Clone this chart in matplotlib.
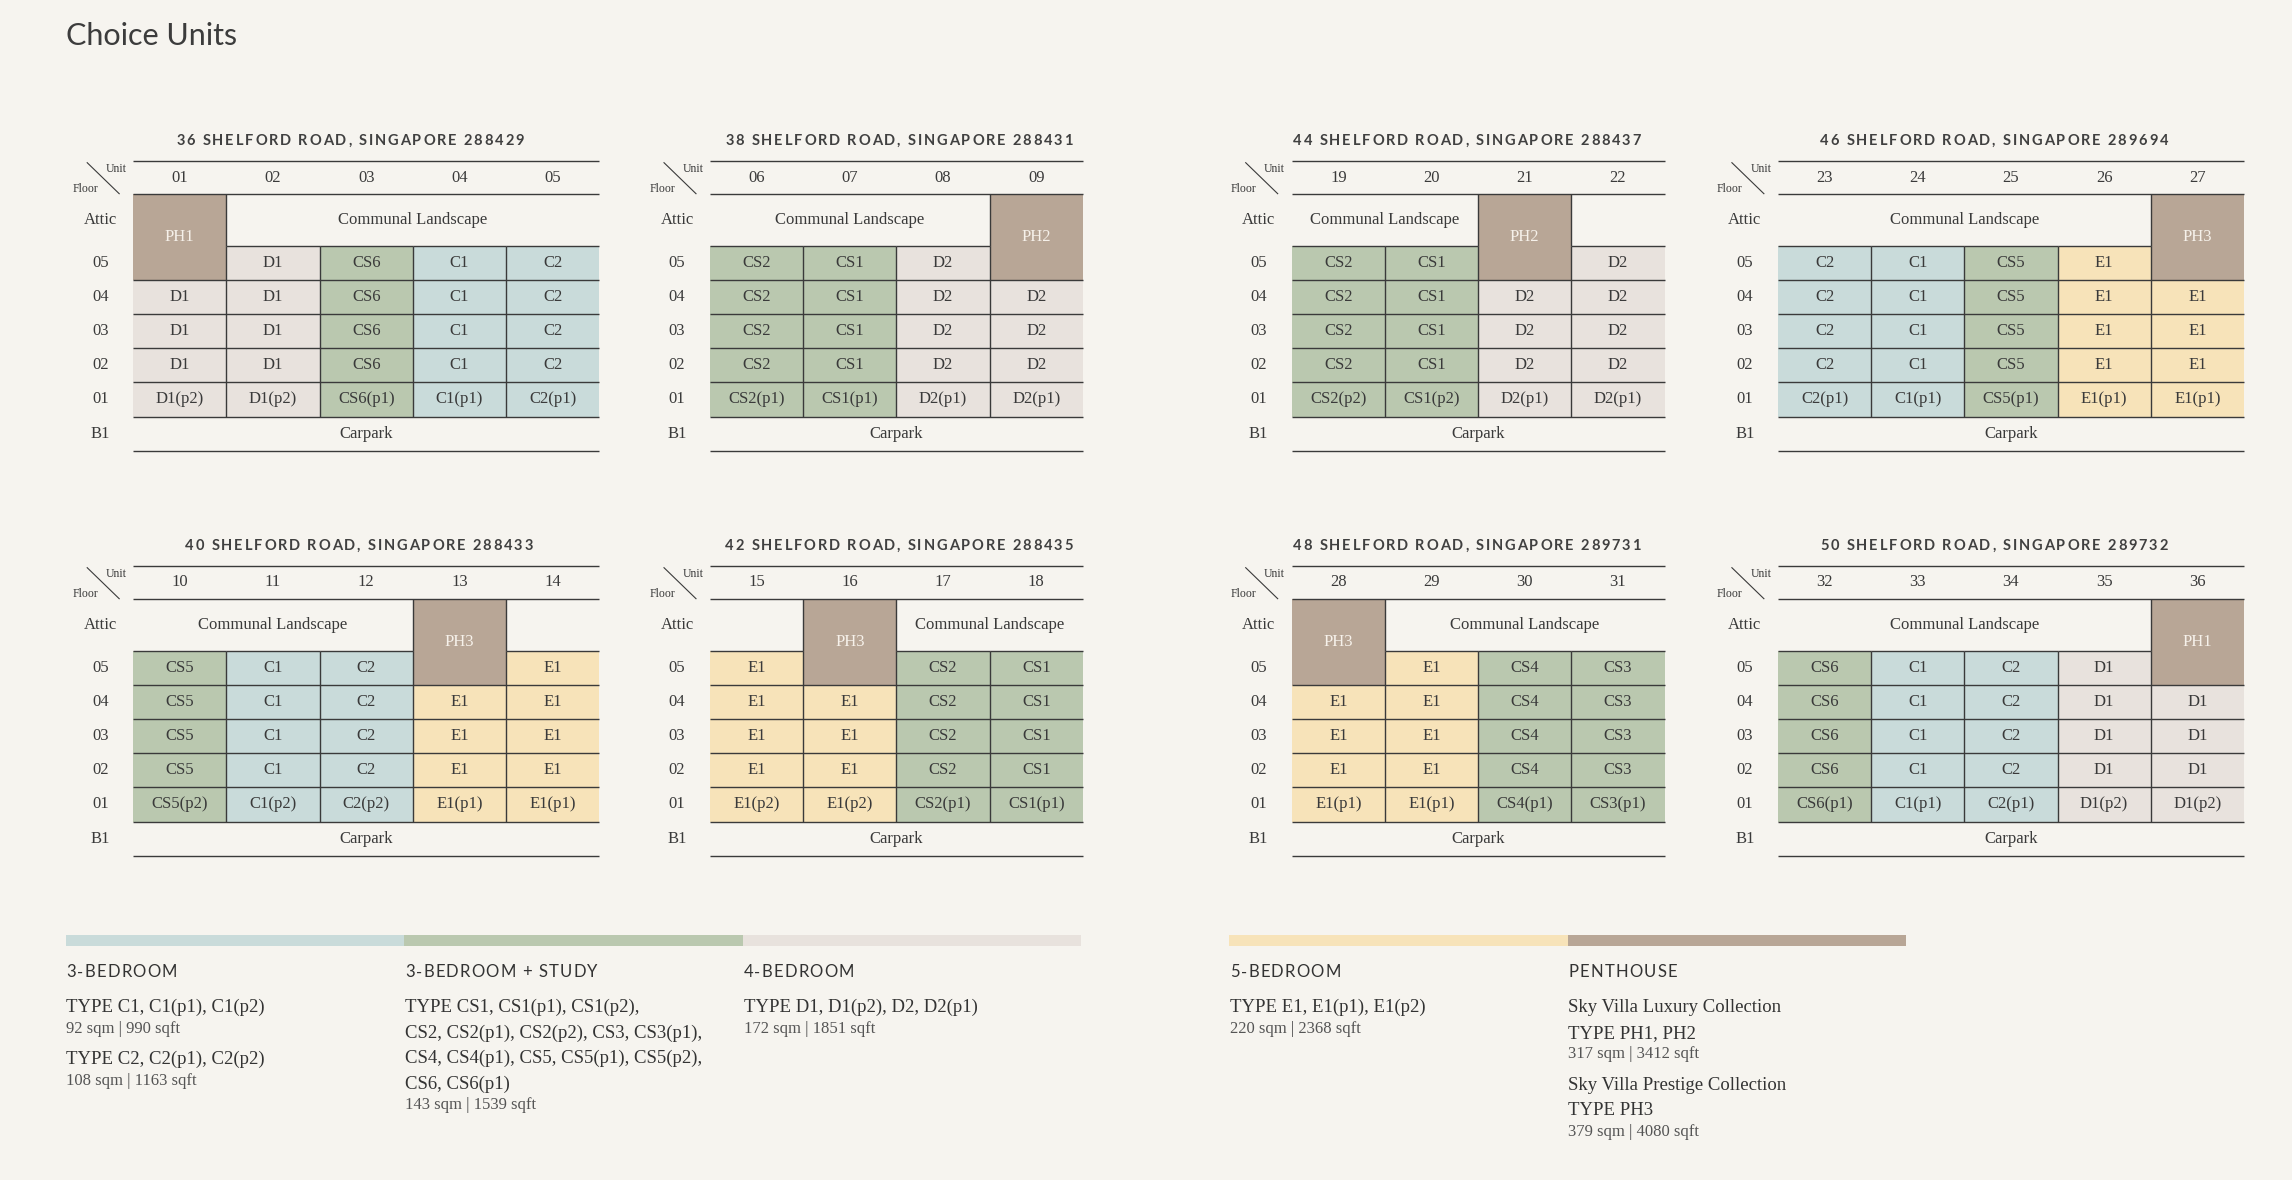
import matplotlib
matplotlib.use('Agg')
import matplotlib.pyplot as plt
from matplotlib.patches import Rectangle
from matplotlib.font_manager import FontProperties

# ---------------- data ----------------
floor_labels = ['Attic', '05', '04', '03', '02', '01', 'B1']

addr_36 = '36 SHELFORD ROAD, SINGAPORE 288429'
units_36 = ['01', '02', '03', '04', '05']
attic_36 = ['PH1', 'CL', 'CL', 'CL', 'CL']
grid_36 = [[None, 'D1', 'CS6', 'C1', 'C2'],
           ['D1', 'D1', 'CS6', 'C1', 'C2'],
           ['D1', 'D1', 'CS6', 'C1', 'C2'],
           ['D1', 'D1', 'CS6', 'C1', 'C2'],
           ['D1(p2)', 'D1(p2)', 'CS6(p1)', 'C1(p1)', 'C2(p1)']]

addr_38 = '38 SHELFORD ROAD, SINGAPORE 288431'
units_38 = ['06', '07', '08', '09']
attic_38 = ['CL', 'CL', 'CL', 'PH2']
grid_38 = [['CS2', 'CS1', 'D2', None],
           ['CS2', 'CS1', 'D2', 'D2'],
           ['CS2', 'CS1', 'D2', 'D2'],
           ['CS2', 'CS1', 'D2', 'D2'],
           ['CS2(p1)', 'CS1(p1)', 'D2(p1)', 'D2(p1)']]

addr_44 = '44 SHELFORD ROAD, SINGAPORE 288437'
units_44 = ['19', '20', '21', '22']
attic_44 = ['CL', 'CL', 'PH2', '']
grid_44 = [['CS2', 'CS1', None, 'D2'],
           ['CS2', 'CS1', 'D2', 'D2'],
           ['CS2', 'CS1', 'D2', 'D2'],
           ['CS2', 'CS1', 'D2', 'D2'],
           ['CS2(p2)', 'CS1(p2)', 'D2(p1)', 'D2(p1)']]

addr_46 = '46 SHELFORD ROAD, SINGAPORE 289694'
units_46 = ['23', '24', '25', '26', '27']
attic_46 = ['CL', 'CL', 'CL', 'CL', 'PH3']
grid_46 = [['C2', 'C1', 'CS5', 'E1', None],
           ['C2', 'C1', 'CS5', 'E1', 'E1'],
           ['C2', 'C1', 'CS5', 'E1', 'E1'],
           ['C2', 'C1', 'CS5', 'E1', 'E1'],
           ['C2(p1)', 'C1(p1)', 'CS5(p1)', 'E1(p1)', 'E1(p1)']]

addr_40 = '40 SHELFORD ROAD, SINGAPORE 288433'
units_40 = ['10', '11', '12', '13', '14']
attic_40 = ['CL', 'CL', 'CL', 'PH3', '']
grid_40 = [['CS5', 'C1', 'C2', None, 'E1'],
           ['CS5', 'C1', 'C2', 'E1', 'E1'],
           ['CS5', 'C1', 'C2', 'E1', 'E1'],
           ['CS5', 'C1', 'C2', 'E1', 'E1'],
           ['CS5(p2)', 'C1(p2)', 'C2(p2)', 'E1(p1)', 'E1(p1)']]

addr_42 = '42 SHELFORD ROAD, SINGAPORE 288435'
units_42 = ['15', '16', '17', '18']
attic_42 = ['', 'PH3', 'CL', 'CL']
grid_42 = [['E1', None, 'CS2', 'CS1'],
           ['E1', 'E1', 'CS2', 'CS1'],
           ['E1', 'E1', 'CS2', 'CS1'],
           ['E1', 'E1', 'CS2', 'CS1'],
           ['E1(p2)', 'E1(p2)', 'CS2(p1)', 'CS1(p1)']]

addr_48 = '48 SHELFORD ROAD, SINGAPORE 289731'
units_48 = ['28', '29', '30', '31']
attic_48 = ['PH3', 'CL', 'CL', 'CL']
grid_48 = [[None, 'E1', 'CS4', 'CS3'],
           ['E1', 'E1', 'CS4', 'CS3'],
           ['E1', 'E1', 'CS4', 'CS3'],
           ['E1', 'E1', 'CS4', 'CS3'],
           ['E1(p1)', 'E1(p1)', 'CS4(p1)', 'CS3(p1)']]

addr_50 = '50 SHELFORD ROAD, SINGAPORE 289732'
units_50 = ['32', '33', '34', '35', '36']
attic_50 = ['CL', 'CL', 'CL', 'CL', 'PH1']
grid_50 = [['CS6', 'C1', 'C2', 'D1', None],
           ['CS6', 'C1', 'C2', 'D1', 'D1'],
           ['CS6', 'C1', 'C2', 'D1', 'D1'],
           ['CS6', 'C1', 'C2', 'D1', 'D1'],
           ['CS6(p1)', 'C1(p1)', 'C2(p1)', 'D1(p2)', 'D1(p2)']]

legend_keys = ['C', 'CS', 'D', 'E', 'PH']
legend_heads = ['3-BEDROOM', '3-BEDROOM + STUDY', '4-BEDROOM', '5-BEDROOM', 'PENTHOUSE']
legend_text = [
    [('TYPE C1, C1(p1), C1(p2)', 'big'), ('92 sqm | 990 sqft', 'small'),
     ('TYPE C2, C2(p1), C2(p2)', 'big'), ('108 sqm | 1163 sqft', 'small')],
    [('TYPE CS1, CS1(p1), CS1(p2),', 'big'), ('CS2, CS2(p1), CS2(p2), CS3, CS3(p1),', 'big'),
     ('CS4, CS4(p1), CS5, CS5(p1), CS5(p2),', 'big'), ('CS6, CS6(p1)', 'big'),
     ('143 sqm | 1539 sqft', 'small')],
    [('TYPE D1, D1(p2), D2, D2(p1)', 'big'), ('172 sqm | 1851 sqft', 'small')],
    [('TYPE E1, E1(p1), E1(p2)', 'big'), ('220 sqm | 2368 sqft', 'small')],
    [('Sky Villa Luxury Collection', 'big'), ('TYPE PH1, PH2', 'big'), ('317 sqm | 3412 sqft', 'small'),
     ('Sky Villa Prestige Collection', 'big'), ('TYPE PH3', 'big'), ('379 sqm | 4080 sqft', 'small')],
]

buildings = [
    (addr_36, units_36, attic_36, grid_36),
    (addr_38, units_38, attic_38, grid_38),
    (addr_44, units_44, attic_44, grid_44),
    (addr_46, units_46, attic_46, grid_46),
    (addr_40, units_40, attic_40, grid_40),
    (addr_42, units_42, attic_42, grid_42),
    (addr_48, units_48, attic_48, grid_48),
    (addr_50, units_50, attic_50, grid_50),
]

# ---------------- style / layout ----------------
BG = '#F6F4EF'
INK = '#3A3A3A'
COLORS = {'PH': '#B8A696', 'CS': '#BAC8AF', 'C': '#C9DBDA', 'D': '#E8E2DD', 'E': '#F7E3B9'}
SERIF = ['Liberation Serif', 'DejaVu Serif']
SANS = ['Lato', 'DejaVu Sans']

TABLE_LEFT = [133.2, 710.0, 1291.7, 1777.9]
TABLE_TOP = [160.7, 565.7]
TITLE_X = [350, 899, 1467, 1994, 359, 899, 1467, 1994]
COL_W = 93.2
HEAD_H = 33.6
ATTIC_H = 51.7
ROW_H = 34.1
LW = 1.0
CELL_FS = 12

fig = plt.figure(figsize=(22.92, 11.80), dpi=100)
fig.patch.set_facecolor(BG)
ax = fig.add_axes([0, 0, 1, 1])
ax.set_xlim(0, 2292)
ax.set_ylim(1180, 0)
ax.axis('off')
renderer = fig.canvas.get_renderer()


def type_color(code):
    for key in ['PH', 'CS', 'C', 'D', 'E']:
        if code.startswith(key):
            return COLORS[key]
    return BG


def tracked(x, y, s, track, size, family, weight='normal', color=INK, ha='left', va='baseline'):
    """Draw text char by char with extra letter spacing (px)."""
    prop = FontProperties(family=family, size=size, weight=weight)

    def width(txt):
        return renderer.get_text_width_height_descent(txt, prop, ismath=False)[0]

    space = width('a a') - width('aa')
    widths = [space if ch == ' ' else width(ch) for ch in s]
    total = sum(widths) + track * (len(s) - 1)
    x0 = x - total / 2 if ha == 'center' else x
    for ch, cw in zip(s, widths):
        if ch != ' ':
            ax.text(x0, y, ch, fontproperties=prop, color=color, ha='left', va=va)
        x0 += cw + track


def draw_table(idx, addr, units, attic, grid):
    left = TABLE_LEFT[idx % 4]
    top = TABLE_TOP[idx // 4]
    n = len(units)
    right = left + n * COL_W
    y_head = top + HEAD_H
    y_attic = y_head + ATTIC_H
    row_tops = [y_attic + i * ROW_H for i in range(len(grid))]
    y_b1 = row_tops[-1] + ROW_H
    y_bot = y_b1 + ROW_H

    # title
    tracked(TITLE_X[idx], top - 16, addr, 1.9, 10.5, SANS, weight='bold', color='#404040', ha='center')

    # corner "Unit / Floor"
    ax.plot([left - 46, left - 14], [top + 2, top + 33], color=INK, lw=0.8)
    ax.text(left - 17, top + 8, 'Unit', family=SERIF, fontsize=8.5, color=INK, ha='center', va='center')
    ax.text(left - 48, top + 28.5, 'Floor', family=SERIF, fontsize=8.5, color=INK, ha='center', va='center')

    # unit numbers
    for j, u in enumerate(units):
        ax.text(left + (j + 0.5) * COL_W, top + HEAD_H / 2, u, family=SERIF, fontsize=CELL_FS,
                color=INK, ha='center', va='center')

    # floor labels
    label_y = [y_head + ATTIC_H / 2] + [t + ROW_H / 2 for t in row_tops] + [y_b1 + ROW_H / 2]
    for lab, yy in zip(floor_labels, label_y):
        ax.text(left - 33, yy, lab, family=SERIF, fontsize=CELL_FS, color=INK, ha='center', va='center')

    # unit cells
    for i, row in enumerate(grid):
        for j, code in enumerate(row):
            if code is None:
                continue
            x = left + j * COL_W
            ax.add_patch(Rectangle((x, row_tops[i]), COL_W, ROW_H, facecolor=type_color(code),
                                   edgecolor='none', zorder=1))
            ax.text(x + COL_W / 2, row_tops[i] + ROW_H / 2, code, family=SERIF, fontsize=CELL_FS,
                    color=INK, ha='center', va='center', zorder=3)

    # attic row: penthouse spans attic + 05, communal landscape spans its columns
    cl_cols = [j for j, a in enumerate(attic) if a == 'CL']
    if cl_cols:
        cx = left + (cl_cols[0] + cl_cols[-1] + 1) / 2 * COL_W
        ax.text(cx, y_head + ATTIC_H / 2, 'Communal Landscape', family=SERIF, fontsize=CELL_FS,
                color=INK, ha='center', va='center')
    for j, a in enumerate(attic):
        x = left + j * COL_W
        if a.startswith('PH'):
            ax.add_patch(Rectangle((x, y_head), COL_W, ATTIC_H + ROW_H, facecolor=type_color(a),
                                   edgecolor='none', zorder=1))
            ax.text(x + COL_W / 2, y_head + (ATTIC_H + ROW_H) / 2, a, family=SERIF, fontsize=CELL_FS,
                    color='#F6F1EA', ha='center', va='center', zorder=3)
            for xb in (x, x + COL_W):
                if left < xb < right:
                    ax.vlines(xb, y_head, y_attic, color=INK, lw=LW, zorder=2)
        else:
            ax.hlines(y_attic, x, x + COL_W, color=INK, lw=LW, zorder=2)

    # horizontal rules
    for yy in [top, y_head] + [t + ROW_H for t in row_tops] + [y_bot]:
        ax.hlines(yy, left, right, color=INK, lw=LW, zorder=2)
    # vertical rules between units
    for j in range(1, n):
        ax.vlines(left + j * COL_W, y_attic, y_b1, color=INK, lw=LW, zorder=2)

    ax.text((left + right) / 2, y_b1 + ROW_H / 2, 'Carpark', family=SERIF, fontsize=CELL_FS,
            color=INK, ha='center', va='center')


for k, (addr, units, attic, grid) in enumerate(buildings):
    draw_table(k, addr, units, attic, grid)

# page title
ax.text(66, 45, 'Choice Units', family=SANS, fontsize=22, color='#3C3C3C', ha='left', va='baseline')

# ---------------- legend ----------------
LEG_X = [65.5, 404.0, 742.5, 1229.0, 1567.5]
LEG_W = 338.5
BAR_Y, BAR_H = 935.0, 10.7
HEAD_BASE = 977.3
FIRST_BASE = 1012.3
STEP = {('big', 'big'): 25.5, ('big', 'small'): 20.5, ('small', 'big'): 31.5}

for x, key, head, lines in zip(LEG_X, legend_keys, legend_heads, legend_text):
    ax.add_patch(Rectangle((x, BAR_Y), LEG_W, BAR_H, facecolor=COLORS[key], edgecolor='none'))
    tracked(x + 1, HEAD_BASE, head, 1.2, 12, SANS, color='#333333')
    y = FIRST_BASE
    prev = None
    for txt, kind in lines:
        if prev is not None:
            y += STEP[(prev, kind)]
        if kind == 'big':
            ax.text(x + 1, y, txt, family=SERIF, fontsize=13.5, color='#333333', ha='left', va='baseline')
        else:
            ax.text(x + 1, y, txt, family=SERIF, fontsize=12, color='#555555', ha='left', va='baseline')
        prev = kind

fig.savefig('out.png', dpi=100, facecolor=BG)
